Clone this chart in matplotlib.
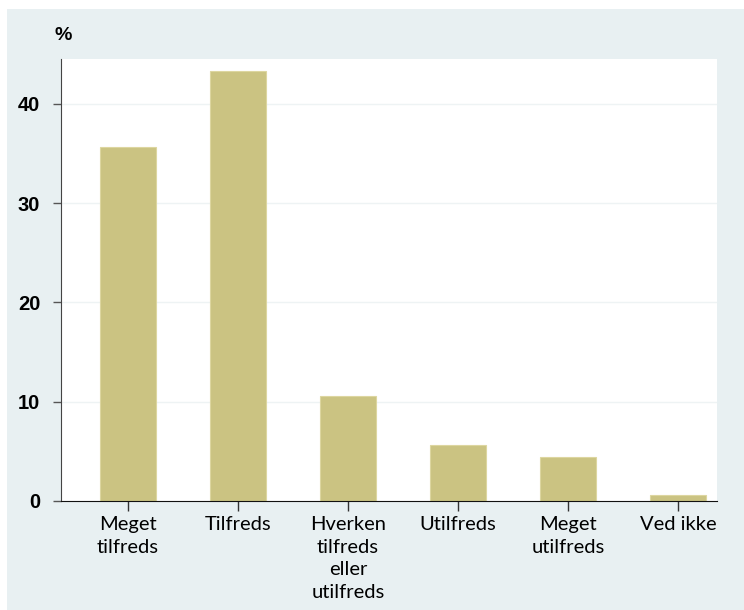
import numpy as np
import matplotlib.pyplot as plt
from matplotlib.patches import Rectangle

# Survey answers (percent)
categories = ['Meget\ntilfreds', 'Tilfreds', 'Hverken\ntilfreds\neller\nutilfreds',
              'Utilfreds', 'Meget\nutilfreds', 'Ved ikke']
percent = [35.6, 43.3, 10.6, 5.6, 4.4, 0.6]
yticks = [0, 10, 20, 30, 40]

panel = '#e8f0f2'
bar_col = '#cbc382'

fig = plt.figure(figsize=(7.44, 6.10), dpi=100)
fig.patch.set_facecolor('white')
fig.patches.append(Rectangle((7 / 744, 0), 1 - 7 / 744, 1 - 9 / 610,
                             transform=fig.transFigure, facecolor=panel,
                             edgecolor='none', zorder=-5))

ax = fig.add_axes([61 / 744, 1 - 501 / 610, 656 / 744, 442 / 610])
ax.set_zorder(5)
ax.set_facecolor('white')

x = np.arange(len(categories))
ax.bar(x, percent, width=0.51, color=bar_col, edgecolor='#ddd6a0', linewidth=0.8, zorder=2)

ax.set_xlim(-0.61, 5.355)
ax.set_ylim(0, 44.5)
ax.set_yticks(yticks)
ax.set_yticklabels([str(t) for t in yticks], fontsize=14.5, fontweight='bold',
                   family='Liberation Sans')
ax.set_xticks(x)
ax.set_xticklabels(categories, fontsize=14.5, family='Lato', linespacing=1.4)
ax.tick_params(axis='y', length=6, width=1, color='#555555', pad=9)
ax.tick_params(axis='x', length=7, width=1, color='#333333', pad=4)

for y in yticks[1:]:
    ax.axhline(y, color='#eef3f4', linewidth=1, zorder=1)

for side in ['top', 'right']:
    ax.spines[side].set_visible(False)
ax.spines['left'].set_color('#444444')
ax.spines['bottom'].set_color('#111111')

fig.text(63 / 744, 1 - 35 / 610, '%', fontsize=14, fontweight='bold',
         family='Liberation Sans', va='center', ha='center')

fig.savefig('out.png', dpi=100, facecolor=fig.get_facecolor())
